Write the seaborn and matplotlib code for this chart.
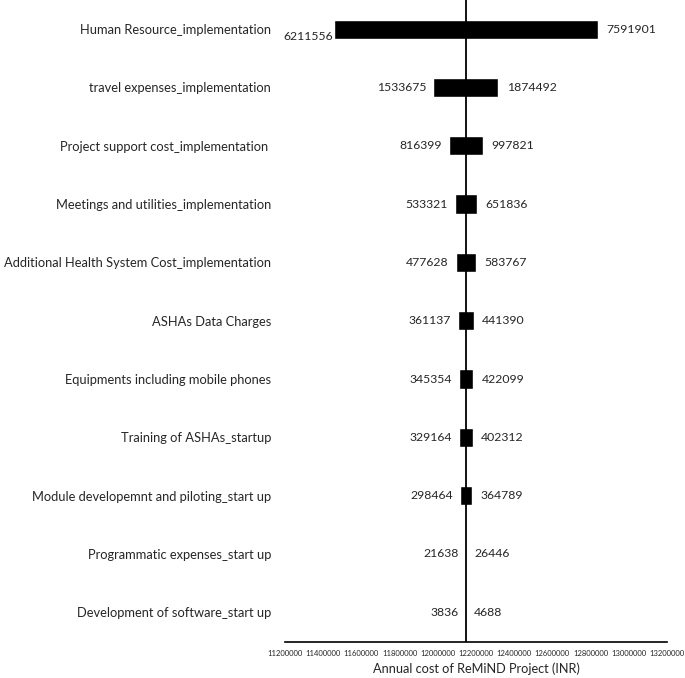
import numpy as np
import pandas as pd
import matplotlib
matplotlib.use("Agg")
import matplotlib.pyplot as plt
import seaborn as sns

categories = [
    "Human Resource_implementation",
    "travel expenses_implementation",
    "Project support cost_implementation ",
    "Meetings and utilities_implementation",
    "Additional Health System Cost_implementation",
    "ASHAs Data Charges",
    "Equipments including mobile phones",
    "Training of ASHAs_startup",
    "Module developemnt and piloting_start up",
    "Programmatic expenses_start up",
    "Development of software_start up",
]
low_values = [6211556, 1533675, 816399, 533321, 477628, 361137, 345354, 329164, 298464, 21638, 3836]
high_values = [7591901, 1874492, 997821, 651836, 583767, 441390, 422099, 402312, 364789, 26446, 4688]
base_cost = 12146853
x_ticks = list(range(11200000, 13200001, 200000))

sns.set_style("white")
plt.rcParams["font.family"] = ["Lato", "DejaVu Sans"]

df = pd.DataFrame({"item": categories, "low": low_values, "high": high_values})
half = (df["high"] - df["low"]) / 2
df["left_end"] = base_cost - half
df["right_end"] = base_cost + half

fig = plt.figure(figsize=(6.85, 6.78), dpi=100)
ax = fig.add_axes([285 / 685, 36 / 678, 382 / 685, 642 / 678])

sns.barplot(data=df, x="right_end", y="item", color="black", width=0.33,
            saturation=1, ax=ax, orient="h")
sns.barplot(data=df, x="left_end", y="item", color="white", width=0.36,
            saturation=1, ax=ax, orient="h")

ax.set_xlim(11200000, 13200000)
ax.set_ylim(10.51, -0.5)
ax.axvline(base_cost, color="black", lw=1.3, zorder=5)

val_fs = 8.8
for i, row in df.iterrows():
    if i == 0:
        ax.annotate(str(row["low"]), (row["left_end"], i), xytext=(-1, -5),
                    textcoords="offset points", ha="right", va="center", fontsize=val_fs)
    else:
        ax.annotate(str(row["low"]), (row["left_end"], i), xytext=(-5, 0),
                    textcoords="offset points", ha="right", va="center", fontsize=val_fs)
    ax.annotate(str(row["high"]), (row["right_end"], i), xytext=(6, 0),
                textcoords="offset points", ha="left", va="center", fontsize=val_fs)

ax.set_xticks(x_ticks)
ax.set_xticklabels([str(t) for t in x_ticks], fontsize=5.5)
ax.tick_params(axis="x", direction="out", length=4, width=0.9, color="black", pad=1.5)
ax.tick_params(axis="y", length=0, labelsize=9.3, pad=10)
ax.set_ylabel("")
ax.set_xlabel("Annual cost of ReMiND Project (INR)", fontsize=9.2, labelpad=4)
sns.despine(ax=ax, left=True)
ax.spines["bottom"].set_color("black")
ax.spines["bottom"].set_linewidth(1.2)

fig.savefig("out.png", dpi=100)
